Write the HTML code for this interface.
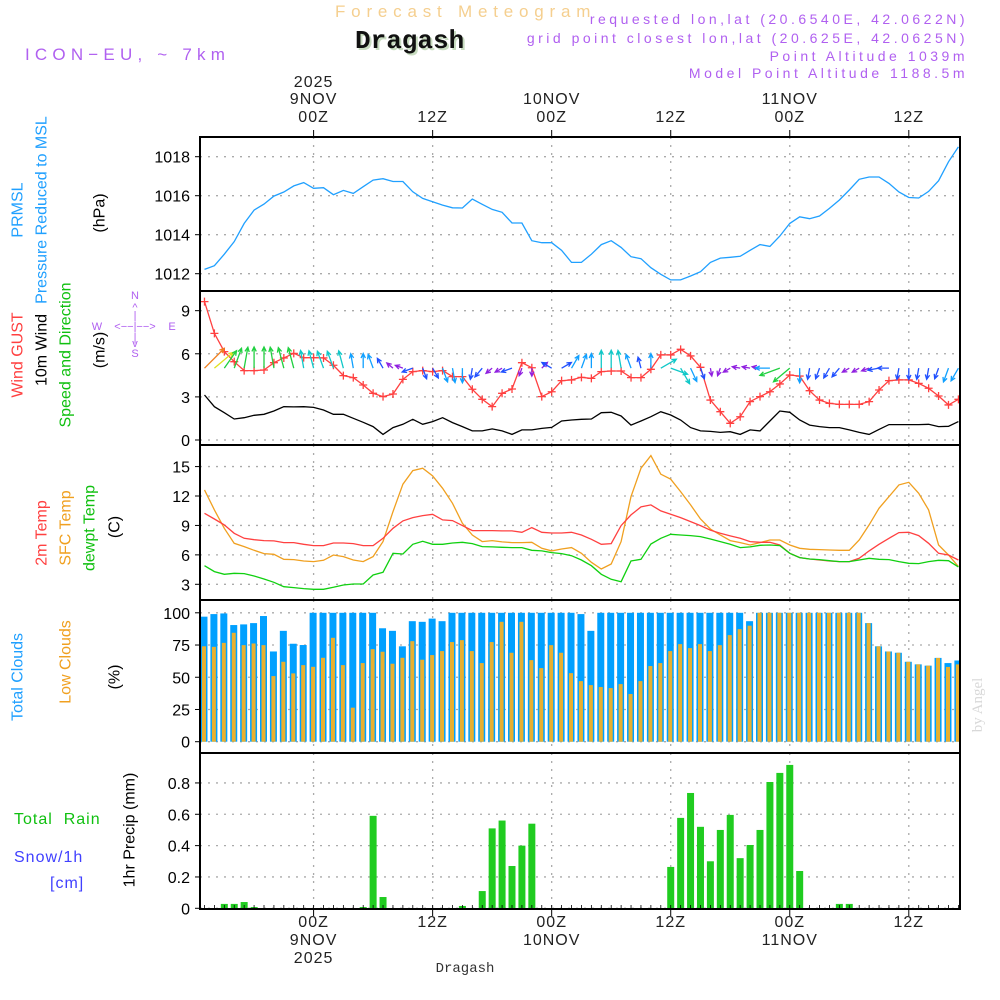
<!DOCTYPE html>
<html><head><meta charset="utf-8">
<style>
html,body{margin:0;padding:0;background:#fff;}
svg{display:block;font-family:"Liberation Sans",sans-serif;}
</style></head>
<body>
<svg id="chart" width="1000" height="1000" viewBox="0 0 1000 1000" xmlns="http://www.w3.org/2000/svg">
<defs><clipPath id="clip"><rect x="200" y="137" width="760" height="772"/></clipPath></defs>
<text x="335" y="17" font-size="17" fill="#f5cf8f" letter-spacing="5.8">Forecast Meteogram</text>
<text x="357" y="50" font-size="26" font-weight="bold" font-family="Liberation Mono, monospace" fill="#c8dcc0">Dragash</text>
<text x="355" y="48" font-size="26" font-weight="bold" font-family="Liberation Mono, monospace" fill="#111">Dragash</text>
<text x="25" y="60" font-size="17" fill="#b060f0" letter-spacing="5.2">ICON−EU, ~ 7km</text>
<g font-size="14" fill="#b060f0" text-anchor="end" letter-spacing="3.5">
<text x="968" y="24">requested lon,lat (20.6540E, 42.0622N)</text>
<text x="968" y="43">grid point closest lon,lat (20.625E, 42.0625N)</text>
<text x="968" y="61">Point Altitude 1039m</text>
<text x="968" y="78">Model Point Altitude 1188.5m</text>
</g>
<g font-size="16" text-anchor="middle">
<text transform="translate(18,210) rotate(-90)" fill="#20a0ff" dominant-baseline="central">PRMSL</text>
<text transform="translate(42,210) rotate(-90)" fill="#20a0ff" dominant-baseline="central">Pressure Reduced to MSL</text>
<text transform="translate(100,213) rotate(-90)" fill="#000" dominant-baseline="central">(hPa)</text>
<text transform="translate(18,355) rotate(-90)" fill="#ff4040" dominant-baseline="central">Wind GUST</text>
<text transform="translate(42,350) rotate(-90)" fill="#000" dominant-baseline="central">10m Wind</text>
<text transform="translate(66,355) rotate(-90)" fill="#10c010" dominant-baseline="central">Speed and Direction</text>
<text transform="translate(100,350) rotate(-90)" fill="#000" dominant-baseline="central">(m/s)</text>
<text transform="translate(42,533) rotate(-90)" fill="#ff4040" dominant-baseline="central">2m Temp</text>
<text transform="translate(66,528) rotate(-90)" fill="#f0a020" dominant-baseline="central">SFC Temp</text>
<text transform="translate(90,528) rotate(-90)" fill="#10c010" dominant-baseline="central">dewpt Temp</text>
<text transform="translate(115,527) rotate(-90)" fill="#000" dominant-baseline="central">(C)</text>
<text transform="translate(18,677) rotate(-90)" fill="#20a0ff" dominant-baseline="central">Total Clouds</text>
<text transform="translate(66,662) rotate(-90)" fill="#f0a020" dominant-baseline="central">Low Clouds</text>
<text transform="translate(115,677) rotate(-90)" fill="#000" dominant-baseline="central">(%)</text>
<text transform="translate(130,830) rotate(-90)" fill="#000" dominant-baseline="central">1hr Precip (mm)</text>
</g>
<text x="14" y="824" font-size="16" fill="#10c010" letter-spacing="1">Total&#160;&#160;Rain</text>
<text x="14" y="862" font-size="16" fill="#4040ff" letter-spacing="1">Snow/1h</text>
<text x="50" y="888" font-size="16" fill="#4040ff" letter-spacing="1">[cm]</text>
<g font-size="11" fill="#b060f0" text-anchor="middle">
<text x="135" y="299">N</text><text x="135" y="311">^</text><text x="135" y="319">|</text>
<text x="97" y="330">W</text><text x="135" y="330">&lt;−−|−−&gt;</text><text x="172" y="330">E</text>
<text x="135" y="341">|</text><text x="135" y="347">v</text><text x="135" y="357">S</text>
</g>
<text transform="translate(982,705) rotate(-90)" font-size="15" fill="#d8d8d8" text-anchor="middle" font-family="Liberation Serif, serif">by Angel</text>
<text x="465" y="972" font-size="14" fill="#333" text-anchor="middle" font-family="Liberation Mono, monospace">Dragash</text>
<g id="g-grid"></g><g id="g-data" clip-path="url(#clip)"></g><g id="g-axes"></g>
</svg>
<script>
const hours0 = -11;
const pressure = [1012.22,1012.41,1013.0,1013.64,1014.58,1015.26,1015.57,1015.98,1016.19,1016.5,1016.67,1016.38,1016.41,1016.05,1016.27,1016.12,1016.46,1016.8,1016.87,1016.73,1016.73,1016.2,1015.86,1015.69,1015.52,1015.38,1015.37,1015.83,1015.56,1015.3,1015.15,1014.6,1014.6,1013.69,1013.59,1013.59,1013.2,1012.58,1012.58,1013.0,1013.49,1013.69,1013.35,1012.87,1012.77,1012.31,1011.97,1011.68,1011.68,1011.88,1012.1,1012.58,1012.8,1012.84,1012.89,1013.2,1013.49,1013.4,1013.93,1014.58,1014.92,1014.82,1014.96,1015.35,1015.78,1016.29,1016.84,1016.96,1016.96,1016.63,1016.19,1015.91,1015.88,1016.22,1016.77,1017.74,1018.5];
const gust = [9.63,7.42,6.15,5.45,4.83,4.83,4.87,5.38,5.71,6.03,5.73,5.73,5.71,5.2,4.48,4.34,3.83,3.25,3.02,3.2,4.22,4.76,4.83,4.76,4.83,4.41,4.41,3.53,2.83,2.32,3.25,3.55,5.38,5.03,3.02,3.36,4.13,4.18,4.36,4.29,4.76,4.8,4.8,4.34,4.34,4.92,5.92,5.92,6.31,5.85,5.06,2.78,1.97,1.16,1.62,2.67,3.02,3.36,3.9,4.52,4.45,3.43,2.78,2.55,2.48,2.48,2.48,2.67,3.48,4.13,4.18,4.18,3.94,3.6,3.06,2.44,2.83];
const wind10m = [3.13,2.32,1.9,1.46,1.55,1.72,1.79,2.02,2.32,2.3,2.32,2.27,2.09,1.79,1.79,1.51,1.23,0.93,0.39,0.86,1.09,1.44,1.09,1.28,1.55,1.21,0.93,0.63,0.63,0.77,0.63,0.39,0.7,0.7,0.81,0.88,1.32,1.39,1.44,1.46,1.9,1.93,1.67,1.04,1.32,1.62,1.97,1.74,1.39,0.86,0.63,0.6,0.53,0.58,0.39,0.7,0.63,1.32,2.02,1.93,1.39,1.04,0.93,0.86,0.86,0.7,0.53,0.39,0.74,1.07,1.07,1.07,1.07,1.09,0.93,0.95,1.28];
const windDir = [45,50,35,20,10,0,0,350,345,345,350,345,340,340,345,350,0,340,330,310,290,250,160,150,160,170,180,190,220,230,240,250,200,180,45,300,60,30,20,0,0,0,350,340,345,0,60,110,150,155,160,170,200,240,280,280,280,270,250,230,180,190,200,210,220,240,240,250,260,270,190,180,190,190,200,200,210];
const windClass = [6,5,4,4,4,4,4,4,4,4,3,3,3,3,3,2,2,2,1,0,0,1,1,1,2,2,2,1,1,0,0,1,0,0,0,1,1,2,2,2,3,3,3,2,1,2,3,3,3,2,1,0,0,0,0,0,0,2,4,4,2,1,1,1,1,0,0,0,1,1,1,1,1,1,1,2,2];
const temp2m = [10.24,9.66,9.05,8.2,7.69,7.55,7.45,7.42,7.25,7.25,7.08,6.94,6.94,7.21,7.21,7.15,6.94,6.94,7.69,8.71,9.46,9.8,10.0,10.14,9.56,9.49,8.98,8.47,8.47,8.47,8.44,8.44,8.3,8.78,8.3,8.23,8.23,8.3,8.03,7.59,7.08,7.15,8.98,10.07,10.89,11.09,10.48,10.14,9.8,9.39,8.98,8.51,8.2,7.93,7.69,7.35,7.28,7.28,7.01,6.16,5.72,5.58,5.48,5.38,5.31,5.31,5.65,6.4,7.08,7.69,8.27,8.3,7.96,7.18,6.16,5.99,5.48];
const tempSfc = [12.62,10.58,8.71,7.18,6.84,6.47,6.13,6.06,5.55,5.52,5.38,5.31,5.45,5.99,5.82,5.48,5.31,5.82,7.35,10.41,13.2,14.59,14.83,14.05,12.79,11.26,9.22,8.03,7.35,7.45,7.32,7.25,7.25,7.28,6.67,6.4,6.6,6.74,6.16,5.24,4.56,5.07,7.35,11.94,14.83,16.12,14.22,13.71,12.45,11.09,9.66,8.64,8.03,7.45,7.25,7.01,7.25,7.52,7.52,7.01,6.67,6.57,6.54,6.5,6.47,6.47,7.52,9.05,10.75,11.94,13.13,13.4,12.28,10.58,7.01,5.99,4.8];
const dewpt = [4.9,4.29,4.02,4.12,4.09,3.85,3.54,3.2,2.76,2.66,2.56,2.49,2.49,2.69,2.93,3.03,3.03,3.95,4.22,6.16,6.09,7.08,7.38,7.08,7.08,7.21,7.28,7.15,6.84,6.81,6.77,6.74,6.74,6.47,6.4,6.23,6.13,5.92,5.48,4.9,4.02,3.51,3.27,5.38,5.55,7.11,7.69,8.1,8.03,7.96,7.86,7.62,7.35,7.08,6.74,6.81,6.98,7.01,6.94,6.16,5.72,5.58,5.52,5.41,5.31,5.31,5.48,5.65,5.55,5.52,5.31,5.14,5.11,5.31,5.45,5.41,4.77];
const totalCloud = [97,99,99.5,90.5,91,92,97.5,70,86,76,75,100,100,100,100,100,100,100,88,86,74,93.5,93,95.5,93.5,100,100,100,100,100,100,100,100,100,100,100,100,100,99,86,100,100,100,100,100,100,100,100,100,100,100,100,100,100,100,93.5,100,100,100,100,100,100,100,100,100,100,100,92,74,70,69,62,60,59,65,61,63];
const lowCloud = [74,73.6,76.7,84.5,74.9,76.2,74.9,50.9,62,53,59.4,58.1,65.1,80.6,59.4,26.4,61,71.8,69.8,60.5,65.1,78,63.6,67.2,70.3,77.3,78.8,70.3,61,77.3,93,69,93,63.3,57.1,74.9,69,53.2,47,43.9,42.4,41.6,44.7,37,47,58.7,61,70.3,75.7,72.6,75.7,70.3,74.9,82.7,87.3,90,100,100,100,100,100,100,100,100,100,100,100,92,74,70,69,62,60,59,65,58,60];
const precip = [0,0,0.028,0.028,0.04,0.008,0,0,0,0,0,0,0,0,0,0,0.008,0.59,0.072,0,0,0,0,0,0,0,0.015,0,0.11,0.51,0.56,0.27,0.40,0.54,0,0,0,0,0,0,0,0,0,0,0,0,0,0.264,0.577,0.736,0.52,0.30,0.5,0.596,0.32,0.404,0.5,0.806,0.864,0.915,0.238,0,0,0,0.028,0.028,0,0,0,0,0,0,0,0,0,0,0];
const pTicks = [1012,1014,1016,1018];
const wTicks = [0,3,6,9];
const tTicks = [3,6,9,12,15];
const cTicks = [0,25,50,75,100];
const rTicks = [0,0.2,0.4,0.6,0.8];
const topLabels = [["2025","9NOV","00Z"],["","","12Z"],["","10NOV","00Z"],["","","12Z"],["","11NOV","00Z"],["","","12Z"]];

const NS="http://www.w3.org/2000/svg";
function el(tag,attrs,parent){const e=document.createElementNS(NS,tag);for(const k in attrs)e.setAttribute(k,attrs[k]);parent.appendChild(e);return e;}
const xH = h => 313.6 + 9.92*h;
const hourOf = i => hours0 + i;
const panels = [
 {top:137,bot:291,y:v=>273.7-(v-1012)*19.5,ticks:pTicks,fmt:v=>v,name:'pressure'},
 {top:291,bot:445,y:v=>440-v*14.37,ticks:wTicks,fmt:v=>v,name:'wind'},
 {top:445,bot:600,y:v=>584.3-(v-3)*9.81,ticks:tTicks,fmt:v=>v,name:'temperature'},
 {top:600,bot:753,y:v=>741.7-v*1.289,ticks:cTicks,fmt:v=>v,name:'clouds'},
 {top:753,bot:909,y:v=>908.3-v*156.7,ticks:rTicks,fmt:v=>v===0?'0':v.toFixed(1),name:'precip'}];
const gGrid=document.getElementById('g-grid'), gData=document.getElementById('g-data'), gAx=document.getElementById('g-axes');
panels.forEach(p=>{
  p.ticks.forEach(t=>{
    const y=p.y(t);
    const gl=el('line',{x1:200,x2:960,y1:y,y2:y,stroke:'#aaa','stroke-width':1.3,'stroke-dasharray':'2,6'},gGrid);
    
    
    el('line',{x1:195,x2:200,y1:y,y2:y,stroke:'#000','stroke-width':1},gAx);
    const tl=el('text',{x:190,y:y+6,'text-anchor':'end','font-size':16,fill:'#000'},gAx);
    tl.textContent=p.fmt(t);
    
    
  });
  for(let h=0;h<=60;h+=12){
    const vl=el('line',{x1:xH(h),x2:xH(h),y1:p.top,y2:p.bot,stroke:'#aaa','stroke-width':1.3,'stroke-dasharray':'2,6'},gGrid);
    
    
  }
  const fr=el('rect',{x:200,y:p.top,width:760,height:p.bot-p.top,fill:'none',stroke:'#000','stroke-width':2},gAx);
  
  
});
topLabels.forEach((lab,k)=>{
  const x=xH(k*12);
  el('line',{x1:x,x2:x,y1:130,y2:137,stroke:'#000'},gAx);
  el('line',{x1:x,x2:x,y1:909,y2:916,stroke:'#000'},gAx);
  [[lab[0],87],[lab[1],104],[lab[2],122]].forEach(([s,y])=>{ if(!s)return;
    const t=el('text',{x:x,y:y,'text-anchor':'middle','font-size':16,fill:'#222','letter-spacing':1},gAx); t.textContent=s;
    
    });
  [[lab[2],927],[lab[1],945],[lab[0],963]].forEach(([s,y])=>{ if(!s)return;
    const t=el('text',{x:x,y:y,'text-anchor':'middle','font-size':16,fill:'#222','letter-spacing':1},gAx); t.textContent=s;
    
    });
});
for(let h=-11;h<=65;h++){ el('line',{x1:xH(h),x2:xH(h),y1:909,y2:905,stroke:'#000','stroke-width':0.8},gAx); }
function line(arr,p,color,name,w){
  const pts=arr.map((v,i)=>xH(hourOf(i)).toFixed(1)+','+p.y(v).toFixed(1)).join(' ');
  const pl=el('polyline',{points:pts,fill:'none',stroke:color,'stroke-width':w||1.3},gData);
  
  
}
line(pressure,panels[0],'#20a0ff','pressure-line');
line(wind10m,panels[1],'#000','wind-10m-line');
line(gust,panels[1],'#ff4040','wind-gust-line');
gust.forEach((v,i)=>{const x=xH(hourOf(i)),y=panels[1].y(v);
  const m=el('path',{d:`M${x-4},${y}H${x+4}M${x},${y-4}V${y+4}`,stroke:'#ff4040','stroke-width':1.3},gData);
  
  });
const classColors=['#9020e0','#2050ff','#10a0ff','#10c8c8','#20d040','#e0e020','#f08020'];
windDir.forEach((d,i)=>{
  const c=windClass[i], col=classColors[c], L=8+3.3*c;
  const x=xH(hourOf(i)), y=panels[1].y(5);
  const a=d*Math.PI/180, tx=x+L*Math.sin(a), ty=y-L*Math.cos(a);
  const b1=a+Math.PI-0.45,b2=a+Math.PI+0.45;
  const ar=el('path',{d:`M${x},${y}L${tx},${ty}M${tx+5*Math.sin(b1)},${ty-5*Math.cos(b1)}L${tx},${ty}L${tx+5*Math.sin(b2)},${ty-5*Math.cos(b2)}`,stroke:col,'stroke-width':1.3,fill:'none'},gData);
  
  
});
line(tempSfc,panels[2],'#f0a020','sfc-temp-line');
line(temp2m,panels[2],'#ff4040','temp-2m-line');
line(dewpt,panels[2],'#10d010','dewpoint-line');
totalCloud.forEach((v,i)=>{const x=xH(hourOf(i)),p=panels[3];
  const r=el('rect',{x:x-4,y:p.y(v),width:7,height:p.y(0)-p.y(v),fill:'#00a0ff'},gData);
  
  });
lowCloud.forEach((v,i)=>{const x=xH(hourOf(i)),p=panels[3];
  const r=el('rect',{x:x-2.5,y:p.y(v),width:4,height:p.y(0)-p.y(v),fill:'#e8b030'},gData);
  
  });
precip.forEach((v,i)=>{ if(v<=0)return; const x=xH(hourOf(i)),p=panels[4];
  const r=el('rect',{x:x-3.5,y:p.y(v),width:7,height:p.y(0)-p.y(v),fill:'#20cc20'},gData);
  
  });
</script>
</body></html>
